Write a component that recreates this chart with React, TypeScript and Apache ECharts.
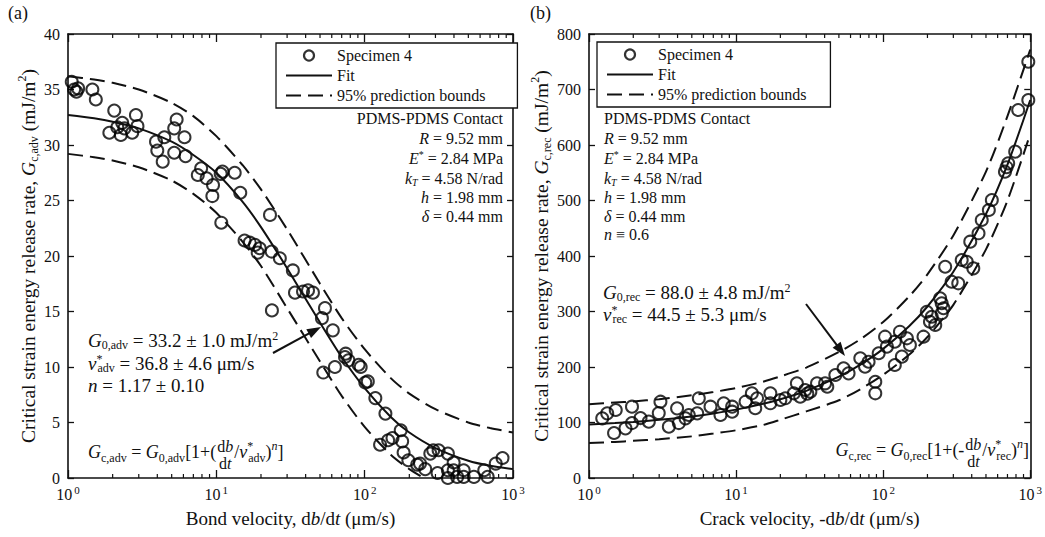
import React, { useEffect, useRef } from "react";
import * as echarts from "echarts";

const FONT = "'Liberation Serif', 'Times New Roman', serif";
const INK = "#111";

// ---------- Panel (a): bond advance ----------
const advVel = [1.06, 1.1, 1.14, 1.17, 1.46, 1.54, 2.05, 1.9, 2.15, 2.32, 2.4, 2.27, 2.71, 2.87, 2.94, 3.92, 4.0, 4.46, 4.35, 5.2, 5.4, 5.2, 6.1, 6.2, 7.9, 7.5, 8.6, 9.5, 9.4, 11.0, 10.7, 13.3, 14.5, 10.8, 15.5, 16.8, 18.2, 19.6, 19.0, 23.0, 23.6, 26.8, 23.7, 32.8, 33.9, 38.4, 41.5, 44.8, 54.0, 51.5, 61.0, 52.6, 63.0, 73.7, 77.7, 74.5, 91.0, 94.0, 101, 105, 118, 138, 175, 127, 144, 154, 179, 183, 197, 226, 236, 256, 277, 290, 315, 364, 398, 310, 364, 364, 398, 420, 465, 465, 545, 640, 675, 765, 850];
const advG = [35.7, 35.0, 34.8, 35.1, 35.0, 34.1, 33.1, 31.1, 31.6, 32.0, 31.5, 30.9, 31.1, 32.7, 31.7, 30.3, 29.5, 30.7, 28.5, 31.5, 32.3, 29.3, 30.7, 29.0, 27.9, 27.3, 27.0, 26.4, 25.4, 27.6, 27.4, 27.5, 25.7, 23.0, 21.4, 21.2, 21.0, 20.7, 20.3, 23.7, 20.4, 19.8, 15.1, 18.7, 16.7, 16.8, 16.9, 16.7, 15.3, 14.4, 13.3, 9.5, 10.0, 10.9, 10.6, 11.2, 10.2, 10.0, 8.6, 8.7, 7.2, 5.8, 4.3, 3.0, 3.4, 3.6, 3.3, 2.3, 1.6, 1.2, 1.3, 0.8, 2.2, 2.5, 2.5, 2.2, 1.4, 0.45, 0.7, 0.0, 0.7, 0.1, 0.7, 0.1, 0.1, 0.7, 0.1, 1.3, 1.8];

const fitVel = [1, 1.5, 2, 3, 5, 7, 10, 15, 20, 30, 50, 70, 100, 150, 200, 300, 500, 700, 1000];
const advFit = [32.7, 32.4, 32.1, 31.5, 30.3, 29.1, 27.5, 24.9, 22.6, 18.9, 14.0, 10.9, 8.1, 5.5, 4.1, 2.7, 1.55, 1.1, 0.8];
const advUpper = [36.2, 35.9, 35.6, 35.0, 33.8, 32.6, 30.8, 28.2, 26.0, 22.4, 17.5, 14.4, 11.6, 9.0, 7.6, 6.2, 5.0, 4.5, 4.1];
const advLower = [29.2, 28.9, 28.6, 28.0, 26.8, 25.6, 23.9, 21.3, 19.1, 15.3, 10.5, 7.4, 4.6, 2.1, 0.8, -0.6, -1.9, -2.3, -2.6];

// ---------- Panel (b): crack recession ----------
const recVel = [1.23, 1.33, 1.52, 1.48, 1.77, 1.96, 1.96, 2.24, 2.55, 2.98, 3.06, 3.49, 3.97, 4.08, 4.53, 4.77, 5.44, 5.58, 6.7, 7.83, 8.24, 9.4, 9.4, 11.6, 12.8, 13.5, 13.9, 17.1, 17.1, 20.0, 21.6, 24.7, 25.9, 27.3, 29.5, 30.5, 32.0, 35.5, 40.3, 41.7, 47.3, 53.8, 58.2, 69.9, 75.3, 79.6, 93.2, 88.4, 88.4, 103, 106, 120, 120, 130, 134, 145, 152, 188, 198, 208, 226, 214, 244, 250, 257, 250, 264, 292, 324, 342, 370, 410, 391, 445, 468, 523, 548, 673, 708, 690, 790, 828, 970, 970];
const recG = [107.5, 116.5, 122.5, 81, 89.5, 99, 128.5, 108, 101.5, 117, 137.5, 92.5, 125.5, 99, 107.5, 113.5, 116.5, 143.6, 128.5, 113.5, 134.6, 128.5, 119.5, 137.5, 152.6, 125.6, 143.6, 152.6, 134.6, 140.5, 143.6, 152.6, 170.6, 146.5, 158.5, 152, 155.5, 170.6, 170.6, 164.5, 185.6, 197.7, 188.6, 215.7, 200.5, 209.5, 224.7, 173.5, 152.6, 254.6, 236.6, 245.6, 203.6, 263.6, 218.6, 251.7, 239.6, 254.6, 299.6, 281.6, 275.7, 290.6, 323.8, 296.8, 305.8, 314.8, 380.7, 353.7, 350.8, 392.8, 389.7, 377.8, 425.8, 440.9, 464.9, 482.9, 500.9, 551.9, 567, 560, 588, 663, 681, 750];
const recFit = [96.6, 99.0, 101.1, 104.9, 111.0, 116.3, 123.2, 133.2, 141.9, 157.1, 182.5, 204.2, 232.6, 273.3, 309.0, 371.5, 475.7, 564.6, 681];
const recUpper = [133, 136, 138, 142, 149, 155, 162, 173, 183, 199, 227, 250, 281, 327, 367, 437, 552, 652, 772];
const recLower = [63, 65, 67, 70, 75, 80, 86, 95, 105, 120, 140, 160, 186, 222, 254, 312, 412, 500, 620];

const minorTickVals = [2, 3, 4, 5, 6, 7, 8, 9, 20, 30, 40, 50, 60, 70, 80, 90, 200, 300, 400, 500, 600, 700, 800, 900];

const NAME_SPEC = "Specimen 4";
const NAME_FIT = "Fit";
const NAME_BOUNDS = "95% prediction bounds";

function rich(size: number, lh: number): any {
  const sub = Math.round(size * 0.64);
  const base = { fontFamily: FONT, fontSize: size, fill: INK, color: INK, lineHeight: lh };
  return {
    n: { ...base },
    i: { ...base, fontStyle: "italic" },
    sb: { fontFamily: FONT, fontSize: sub, fill: INK, color: INK, lineHeight: sub, verticalAlign: "bottom" },
    si: { fontFamily: FONT, fontSize: sub, fontStyle: "italic", fill: INK, color: INK, lineHeight: sub, verticalAlign: "bottom" },
    sp: { fontFamily: FONT, fontSize: sub, fill: INK, color: INK, lineHeight: sub, verticalAlign: "top" },
    spi: { fontFamily: FONT, fontSize: sub, fontStyle: "italic", fill: INK, color: INK, lineHeight: sub, verticalAlign: "top" },
    st: { fontFamily: FONT, fontSize: sub, fill: INK, color: INK, lineHeight: sub, verticalAlign: "top", width: 1 },
  };
}

let measureCtx: CanvasRenderingContext2D | null = null;
function measureRich(text: string, size: number): number {
  if (!measureCtx) measureCtx = document.createElement("canvas").getContext("2d");
  const c = measureCtx!;
  const r = rich(size, size + 6);
  const re = /\{(\w+)\|([^}]*)\}|([^{]+)/g;
  let w = 0;
  let m: RegExpExecArray | null;
  while ((m = re.exec(text))) {
    if (m[3] !== undefined) {
      c.font = `${size}px ${FONT}`;
      w += c.measureText(m[3]).width;
    } else {
      const st = r[m[1]];
      if (st.width !== undefined) {
        w += st.width;
        continue;
      }
      c.font = `${st.fontStyle || "normal"} ${st.fontSize}px ${FONT}`;
      w += c.measureText(m[2]).width;
    }
  }
  return w;
}

function txt(x: number, y: number, text: string, size: number, align = "left", lhExtra = 6) {
  return {
    type: "text",
    x,
    y,
    silent: true,
    style: {
      text,
      rich: rich(size, size + lhExtra),
      font: `${size}px ${FONT}`,
      fontFamily: FONT,
      fontSize: size,
      lineHeight: size + lhExtra,
      fill: INK,
      align,
      verticalAlign: "middle",
    },
  };
}

// formula with a stacked d b / d t fraction; anchored left (x0) or right (xRight)
function formula(anchor: number, alignRight: boolean, y: number, part1: string, part3: string, size: number, fsize: number) {
  const numer = "d{i|b}";
  const denom = "d{i|t}";
  const w1 = measureRich(part1, size);
  const wf = Math.max(measureRich(numer, fsize), measureRich(denom, fsize));
  const w3 = measureRich(part3, size);
  const total = w1 + 1 + wf + 1 + w3;
  const x0 = alignRight ? anchor - total : anchor;
  const xf = x0 + w1 + 1;
  return [
    txt(x0, y, part1, size, "left"),
    txt(xf + wf / 2, y - 6, numer, fsize, "center", 0),
    txt(xf + wf / 2, y + 11, denom, fsize, "center", 0),
    txt(xf + wf + 1, y, part3, size, "left"),
  ];
}

function arrow(x1: number, y1: number, x2: number, y2: number) {
  const dx = x2 - x1;
  const dy = y2 - y1;
  const L = Math.hypot(dx, dy);
  const ux = dx / L;
  const uy = dy / L;
  const hl = 14;
  const hw = 5;
  const bx = x2 - ux * hl;
  const by = y2 - uy * hl;
  return [
    { type: "line", silent: true, shape: { x1, y1, x2: bx + ux * 2, y2: by + uy * 2 }, style: { stroke: INK, lineWidth: 2 } },
    {
      type: "polygon",
      silent: true,
      shape: { points: [[x2, y2], [bx - uy * hw, by + ux * hw], [bx + uy * hw, by - ux * hw]] },
      style: { fill: INK },
    },
  ];
}

const pairs = (xs: number[], ys: number[]) => xs.map((v, i) => [v, ys[i]]);

function xAxes(gridIndex: number, name: string) {
  const common = {
    gridIndex,
    type: "log",
    logBase: 10,
    min: 1,
    max: 1000,
    splitLine: { show: false },
    axisLine: { show: true, onZero: false, lineStyle: { color: INK, width: 1.6 } },
    axisTick: { show: true, inside: true, length: 8, lineStyle: { color: INK, width: 1.3 } },
    minorTick: { show: false },
  };
  return [
    {
      ...common,
      position: "bottom",
      name,
      nameLocation: "middle",
      nameGap: 28,
      nameTextStyle: { fontFamily: FONT, fontSize: 19, color: INK, rich: rich(19, 24) },
      axisLabel: {
        margin: 6,
        formatter: (v: number) => `{b|10}{s|${Math.round(Math.log10(v))}}`,
        rich: {
          b: { fontFamily: FONT, fontSize: 16, color: INK, lineHeight: 20 },
          s: { fontFamily: FONT, fontSize: 11, color: INK, lineHeight: 11, verticalAlign: "top", padding: [0, 0, 0, 2] },
        },
      },
    },
    { ...common, position: "top", axisLabel: { show: false } },
  ];
}

function yAxes(gridIndex: number, max: number, interval: number, name: string) {
  const common = {
    gridIndex,
    type: "value",
    min: 0,
    max,
    interval,
    splitLine: { show: false },
    axisLine: { show: true, onZero: false, lineStyle: { color: INK, width: 1.6 } },
    axisTick: { show: true, inside: true, length: 6, lineStyle: { color: INK, width: 1.3 } },
  };
  return [
    {
      ...common,
      position: "left",
      name,
      nameLocation: "middle",
      nameGap: 26,
      nameRotate: 90,
      nameTextStyle: { fontFamily: FONT, fontSize: 19.5, color: INK, rich: rich(19.5, 24) },
      axisLabel: { margin: 8, fontFamily: FONT, fontSize: 16, color: INK },
    },
    { ...common, position: "right", axisLabel: { show: false } },
  ];
}

function minorTickSeries(xi: number, yi: number, yMin: number, yMax: number) {
  return {
    type: "custom",
    xAxisIndex: xi,
    yAxisIndex: yi,
    silent: true,
    data: minorTickVals.map((v) => [v, yMin]),
    encode: { x: 0, y: 1 },
    renderItem: (_p: any, api: any) => {
      const v = api.value(0);
      const b = api.coord([v, yMin]);
      const t = api.coord([v, yMax]);
      return {
        type: "group",
        children: [
          { type: "line", shape: { x1: b[0], y1: b[1], x2: b[0], y2: b[1] - 4 }, style: { stroke: INK, lineWidth: 1.2 } },
          { type: "line", shape: { x1: t[0], y1: t[1], x2: t[0], y2: t[1] + 4 }, style: { stroke: INK, lineWidth: 1.2 } },
        ],
      };
    },
  };
}

function panelSeries(xi: number, yi: number, vel: number[], g: number[], fit: number[], up: number[], lo: number[]) {
  const lineCommon = { type: "line", xAxisIndex: xi, yAxisIndex: yi, symbol: "none", showSymbol: false, smooth: 0.25, clip: true, silent: true };
  return [
    { ...lineCommon, name: NAME_FIT, data: pairs(fitVel, fit), lineStyle: { color: INK, width: 2, type: "solid" }, itemStyle: { color: INK } },
    { ...lineCommon, name: NAME_BOUNDS, data: pairs(fitVel, up), lineStyle: { color: INK, width: 2, type: [15, 7] }, itemStyle: { color: INK } },
    { ...lineCommon, name: NAME_BOUNDS, data: pairs(fitVel, lo), lineStyle: { color: INK, width: 2, type: [15, 7] }, itemStyle: { color: INK } },
    {
      type: "scatter",
      name: NAME_SPEC,
      xAxisIndex: xi,
      yAxisIndex: yi,
      symbol: "circle",
      symbolSize: 12,
      silent: true,
      data: pairs(vel, g),
      itemStyle: { color: "rgba(0,0,0,0)", borderColor: "#000", borderWidth: 2 },
    },
  ];
}

function legendAt(left: number, top: number, padRight: number) {
  const hidden = { color: "rgba(0,0,0,0)", borderWidth: 0, opacity: 0 };
  return {
    left,
    top,
    orient: "vertical",
    selectedMode: false,
    data: [
      { name: NAME_SPEC, icon: "circle", itemStyle: { color: "rgba(0,0,0,0)", borderColor: "#000", borderWidth: 2.2 } },
      { name: NAME_FIT, itemStyle: hidden },
      { name: NAME_BOUNDS, itemStyle: hidden },
    ],
    itemWidth: 46,
    itemHeight: 10,
    itemGap: 1,
    itemTextGap: 8,
    padding: [3, padRight, 3, 9],
    borderColor: INK,
    borderWidth: 1.3,
    backgroundColor: "#fff",
    textStyle: { fontFamily: FONT, fontSize: 16, color: INK, lineHeight: 19 },
  };
}

const paramsA = [
  "PDMS-PDMS Contact",
  "{i|R} = 9.52 mm",
  "{i|E}{sp|*} = 2.84 MPa",
  "{i|k}{si|T} = 4.58 N/rad",
  "{i|h} = 1.98 mm",
  "{i|δ} = 0.44 mm",
];
const paramsB = [...paramsA, "{i|n} ≡ 0.6"];
const paramsY = [118, 138, 158, 178, 197, 216, 234];

function buildOption(): any {
  return {
    animation: false,
    backgroundColor: "#fff",
    grid: [
      { left: 68, top: 34, width: 445, height: 444, containLabel: false },
      { left: 589, top: 34, width: 443, height: 444, containLabel: false },
    ],
    xAxis: [
      ...xAxes(0, "Bond velocity, d{i|b}/d{i|t} (μm/s)"),
      ...xAxes(1, "Crack velocity, -d{i|b}/d{i|t} (μm/s)"),
    ],
    yAxis: [
      ...yAxes(0, 40, 5, "Critical strain energy release rate, {i|G}{sb|c,adv} (mJ/m{sp|2})"),
      ...yAxes(1, 800, 100, "Critical strain energy release rate, {i|G}{sb|c,rec} (mJ/m{sp|2})"),
    ],
    legend: [legendAt(276, 43, 32), legendAt(597, 42, 24)],
    series: [
      ...panelSeries(0, 0, advVel, advG, advFit, advUpper, advLower),
      ...panelSeries(2, 2, recVel, recG, recFit, recUpper, recLower),
      minorTickSeries(0, 0, 0, 40),
      minorTickSeries(2, 2, 0, 800),
    ],
    graphic: [
      txt(8, 13, "(a)", 18),
      txt(530, 13, "(b)", 18),
      ...paramsA.map((s, k) => txt(503, paramsY[k], s, 16, "right", 2)),
      ...paramsB.map((s, k) => txt(604, paramsY[k], s, 16, "left", 2)),
      txt(88, 340, "{i|G}{sb|0,adv} = 33.2 ± 1.0 mJ/m{sp|2}", 19, "left", 2),
      txt(88, 363, "{i|v}{st|*}{sb|adv} = 36.8 ± 4.6 μm/s", 19, "left", 2),
      txt(88, 385, "{i|n} = 1.17 ± 0.10", 19, "left", 2),
      ...arrow(273, 353, 321, 327),
      ...formula(88, false, 452, "{i|G}{sb|c,adv} = {i|G}{sb|0,adv}[1+(", "/{i|v}{st|*}{sb|adv}){spi|n}]", 18, 16),
      txt(603, 292, "{i|G}{sb|0,rec} = 88.0 ± 4.8 mJ/m{sp|2}", 19, "left", 2),
      txt(603, 314, "{i|v}{st|*}{sb|rec} = 44.5 ± 5.3 μm/s", 19, "left", 2),
      ...arrow(806, 304, 845, 356),
      ...formula(1029, true, 450, "{i|G}{sb|c,rec} = {i|G}{sb|0,rec}[1+(-", "/{i|v}{st|*}{sb|rec}){spi|n}]", 18, 16),
    ],
  };
}

export default function App() {
  const ref = useRef<HTMLDivElement>(null);
  useEffect(() => {
    if (!ref.current) return;
    const chart = echarts.init(ref.current, null, { renderer: "svg" });
    chart.setOption(buildOption());
    return () => chart.dispose();
  }, []);
  return <div ref={ref} style={{ position: "absolute", left: 0, top: 0, width: 1045, height: 537, background: "#fff" }} />;
}
